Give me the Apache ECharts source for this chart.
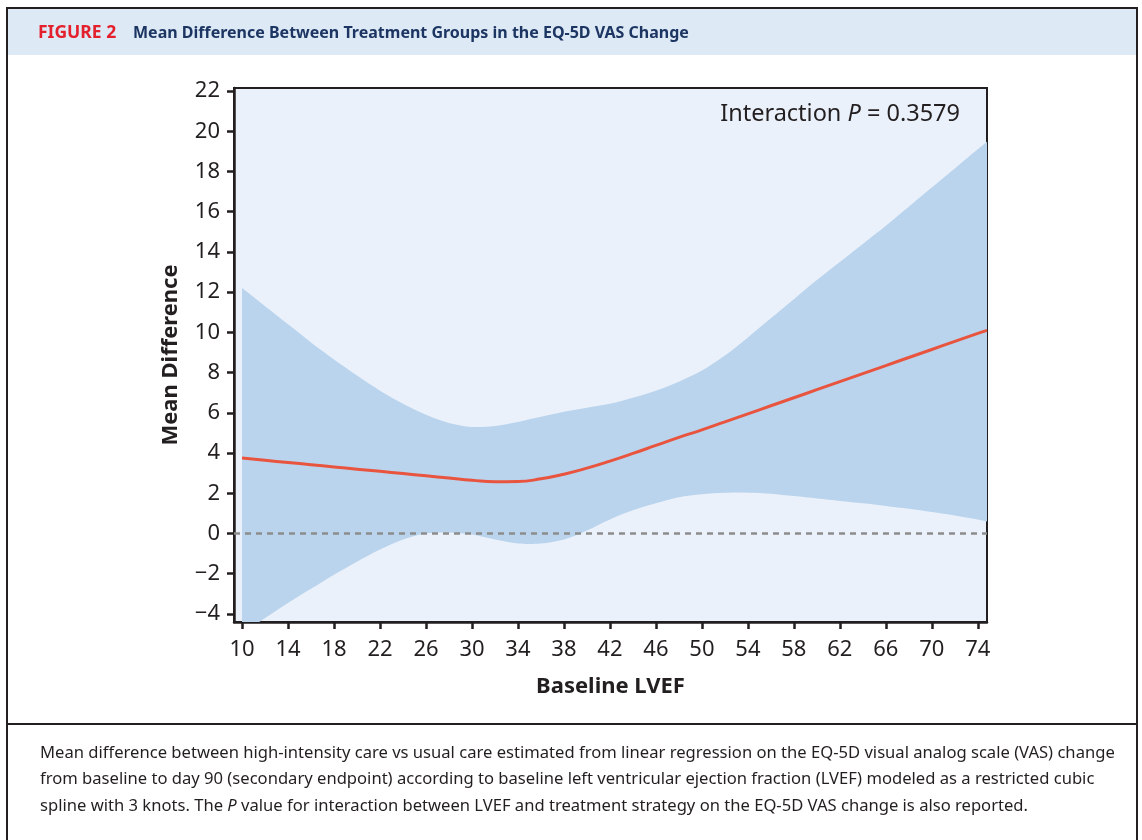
<!DOCTYPE html>
<html><head><meta charset="utf-8">
<script src="https://cdn.jsdelivr.net/npm/echarts@6/dist/echarts.min.js"></script>
<style>html,body{margin:0;padding:0;background:#fff}#c{width:1142px;height:840px}</style>
</head><body><div id="c"></div>
<script>
const lvef     = [10, 12, 14, 16, 18, 20, 22, 24, 26, 28, 30, 32, 34, 36, 38, 40, 42, 44, 46, 48, 50, 52, 54, 56, 58, 60, 62, 64, 66, 68, 70, 72, 74, 74.8];
const meanDiff = [3.75, 3.64, 3.53, 3.42, 3.31, 3.2, 3.09, 2.98, 2.87, 2.76, 2.65, 2.57, 2.58, 2.72, 2.95, 3.25, 3.6, 3.98, 4.38, 4.78, 5.15, 5.55, 5.95, 6.35, 6.75, 7.15, 7.55, 7.95, 8.35, 8.75, 9.15, 9.55, 9.95, 10.1];
const ciLower  = [-5.0, -4.2, -3.45, -2.75, -2.05, -1.4, -0.8, -0.3, 0.0, 0.05, -0.05, -0.3, -0.5, -0.5, -0.3, 0.15, 0.7, 1.15, 1.5, 1.8, 1.95, 2.02, 2.03, 1.98, 1.86, 1.74, 1.62, 1.5, 1.37, 1.23, 1.07, 0.9, 0.7, 0.6];
const ciUpper  = [12.2, 11.3, 10.4, 9.5, 8.65, 7.85, 7.1, 6.45, 5.9, 5.5, 5.3, 5.35, 5.55, 5.8, 6.05, 6.25, 6.45, 6.75, 7.1, 7.55, 8.1, 8.85, 9.75, 10.7, 11.65, 12.6, 13.5, 14.4, 15.3, 16.25, 17.2, 18.15, 19.1, 19.48];
const xTicks = [10, 14, 18, 22, 26, 30, 34, 38, 42, 46, 50, 54, 58, 62, 66, 70, 74];
const yTicks = [-4, -2, 0, 2, 4, 6, 8, 10, 12, 14, 16, 18, 20, 22];
const captionLines = [
  'Mean difference between high-intensity care vs usual care estimated from linear regression on the EQ-5D visual analog scale (VAS) change',
  'from baseline to day 90 (secondary endpoint) according to baseline left ventricular ejection fraction (LVEF) modeled as a restricted cubic',
  'spline with 3 knots. The {i|P} value for interaction between LVEF and treatment strategy on the EQ-5D VAS change is also reported.'
];

const ink = '#231f20';
const font = '"Noto Sans", "Open Sans", sans-serif';
const chart = echarts.init(document.getElementById('c'), null, {renderer: 'canvas'});

const bandData = lvef.map((x, i) => [x, ciLower[i], ciUpper[i]]);
const meanData = lvef.map((x, i) => [x, meanDiff[i]]);
const fmt = v => (v < 0 ? '\u2212' + Math.abs(v) : String(v));

function renderBand(params, api) {
  if (params.dataIndex !== 0) return;
  const n = lvef.length;
  const up = [], lo = [];
  for (let i = 0; i < n; i++) {
    up.push(api.coord([lvef[i], ciUpper[i]]));
    lo.push(api.coord([lvef[i], ciLower[i]]));
  }
  lo.reverse();
  // duplicate corner points so smoothing keeps the vertical ends straight
  const pts = [up[0]].concat(up, [up[n - 1]], [lo[0]], lo, [lo[n - 1]]);
  return {type: 'polygon', shape: {points: pts, smooth: 0.3}, style: {fill: '#bad4ee'}, silent: true};
}

chart.setOption({
  animation: false,
  textStyle: {fontFamily: font},
  grid: {left: 234, top: 88, right: 155, bottom: 218, show: true, borderColor: ink, borderWidth: 2, backgroundColor: '#eaf1fa'},
  xAxis: {
    type: 'value', min: 9.3, max: 74.8,
    axisLine: {show: true, onZero: false, lineStyle: {color: ink, width: 2.5}},
    axisTick: {show: true, customValues: xTicks, length: 7, lineStyle: {color: ink, width: 2.5}},
    axisLabel: {customValues: xTicks, fontSize: 22, color: ink, margin: 17, fontFamily: font},
    splitLine: {show: false},
    name: 'Baseline LVEF', nameLocation: 'middle', nameGap: 54,
    nameTextStyle: {fontSize: 22, fontWeight: 'bold', color: ink, fontFamily: font}
  },
  yAxis: {
    type: 'value', min: -4.4, max: 22.15,
    axisLine: {show: true, onZero: false, lineStyle: {color: ink, width: 2.5}},
    axisTick: {show: true, customValues: yTicks, length: 7, lineStyle: {color: ink, width: 2.5}},
    axisLabel: {customValues: yTicks, fontSize: 22, color: ink, margin: 14, fontFamily: font, formatter: fmt},
    splitLine: {show: false},
    name: 'Mean Difference', nameLocation: 'middle', nameGap: 52, nameRotate: 90,
    nameTextStyle: {fontSize: 22, fontWeight: 'bold', color: ink, fontFamily: font}
  },
  series: [
    {type: 'custom', data: bandData, renderItem: renderBand, clip: true, silent: true, z: 1,
     encode: {x: 0, y: [1, 2]}},
    {type: 'line', data: meanData, smooth: true, showSymbol: false, z: 4,
     lineStyle: {color: '#e9543f', width: 3},
     markLine: {silent: true, symbol: 'none', label: {show: false},
       lineStyle: {color: '#8c8c8c', type: [6, 5], width: 2.5}, data: [{yAxis: 0}]}}
  ],
  graphic: [
    {type: 'rect', shape: {x: 7, y: 8, width: 1130, height: 840}, style: {fill: 'none', stroke: ink, lineWidth: 2}, silent: true},
    {type: 'rect', shape: {x: 8, y: 9, width: 1128, height: 46}, style: {fill: '#dde9f5'}, silent: true},
    {type: 'text', x: 38, y: 33, style: {text: 'FIGURE 2', fill: '#e4202c', font: 'bold 17.5px ' + font, textVerticalAlign: 'middle'}},
    {type: 'text', x: 133, y: 33, style: {text: 'Mean Difference Between Treatment Groups in the EQ-5D VAS Change', fill: '#1c3562', font: 'bold 16px ' + font, textVerticalAlign: 'middle'}},
    {type: 'line', shape: {x1: 7, y1: 724, x2: 1137, y2: 724}, style: {stroke: ink, lineWidth: 2}},
    {type: 'text', x: 960, y: 114, z: 10, style: {
      text: '{n|Interaction }{i|P}{n| = 0.3579}', align: 'right', verticalAlign: 'middle',
      rich: {n: {fontSize: 23.5, fontFamily: font, fill: ink}, i: {fontSize: 23.5, fontFamily: font, fontStyle: 'italic', fill: ink}}}},
    ...captionLines.map((t, k) => ({type: 'text', x: 40, y: 753 + k * 26.5, style: {
      text: t.indexOf('{i|') >= 0 ? '{n|' + t.replace('{i|P}', '}{i|P}{n|') + '}' : t,
      fill: ink, font: '16.6px ' + font, verticalAlign: 'middle',
      rich: {n: {fontSize: 16.6, fontFamily: font, fill: ink}, i: {fontSize: 16.6, fontFamily: font, fontStyle: 'italic', fill: ink}}}}))
  ]
});
</script>
</body></html>
